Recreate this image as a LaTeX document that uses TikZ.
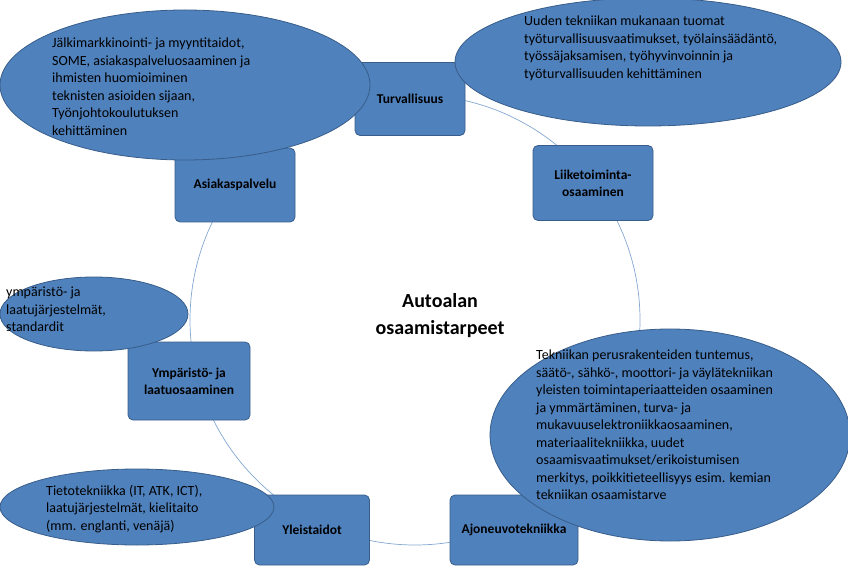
\documentclass[tikz,border=0pt]{standalone}
\usepackage{fontspec}
\setmainfont{Carlito}
\usetikzlibrary{shapes.geometric}
\definecolor{bf}{HTML}{4F81BD}
\definecolor{bd}{HTML}{385D8A}
\begin{document}
\begin{tikzpicture}[x=1pt,y=-1pt,
 box/.style={draw=bd,fill=bf,rounded corners=5pt,line width=0.8pt,align=center,font=\fontsize{13.5}{17}\selectfont\bfseries},
 ell/.style={draw=bd,fill=bf,ellipse,line width=0.8pt,inner sep=0pt},
 etext/.style={align=left,font=\fontsize{14}{17.5}\selectfont,anchor=north west,inner sep=0pt}]
\useasboundingbox (0,0) rectangle (848,585);
\draw[bf!70,line width=0.7pt] (415,320) circle[radius=225];
\node[box,minimum width=110,minimum height=73] (tur) at (410,99) {Turvallisuus};
\node[box,minimum width=120,minimum height=75] (lii) at (593,183) {Liiketoiminta-\\osaaminen};
\node[box,minimum width=120,minimum height=74] (asi) at (235,185) {Asiakaspalvelu};
\node[box,minimum width=122,minimum height=78] (ymp) at (189,381) {Ympäristö- ja\\laatuosaaminen};
\node[box,minimum width=115,minimum height=70] (yle) at (312,530) {Yleistaidot};
\node[box,minimum width=128,minimum height=70] (ajo) at (514,530) {Ajoneuvotekniikka};
\node[ell,minimum width=370,minimum height=150] (e1) at (185,85) {};
\node[etext] at (52,38) {Jälkimarkkinointi- ja myyntitaidot,\\SOME, asiakaspalveluosaaminen ja\\ihmisten huomioiminen\\teknisten asioiden sijaan,\\Työnjohtokoulutuksen\\kehittäminen};
\node[ell,minimum width=386,minimum height=128] (e2) at (648,62) {};
\node[etext] at (524,16) {Uuden tekniikan mukanaan tuomat\\työturvallisuusvaatimukset, työlainsäädäntö,\\työssäjaksamisen, työhyvinvoinnin ja\\työturvallisuuden kehittäminen};
\node[ell,minimum width=188,minimum height=74] (e3) at (94,314) {};
\node[etext] at (6,287) {ympäristö- ja\\laatujärjestelmät,\\standardit};
\node[ell,minimum width=360,minimum height=212] (e4) at (670,435) {};
\node[etext] at (536,350) {Tekniikan perusrakenteiden tuntemus,\\säätö-, sähkö-, moottori- ja väylätekniikan\\yleisten toimintaperiaatteiden osaaminen\\ja ymmärtäminen, turva- ja\\mukavuuselektroniikkaosaaminen,\\materiaalitekniikka, uudet\\osaamisvaatimukset/erikoistumisen\\merkitys, poikkitieteellisyys esim. kemian\\tekniikan osaamistarve};
\node[ell,minimum width=274,minimum height=76] (e5) at (137,507) {};
\node[etext] at (46,485) {Tietotekniikka (IT, ATK, ICT),\\laatujärjestelmät, kielitaito\\(mm. englanti, venäjä)};
\node[align=center,font=\fontsize{20}{27}\selectfont\bfseries] (c) at (440,316) {Autoalan\\osaamistarpeet};
\end{tikzpicture}
\end{document}
